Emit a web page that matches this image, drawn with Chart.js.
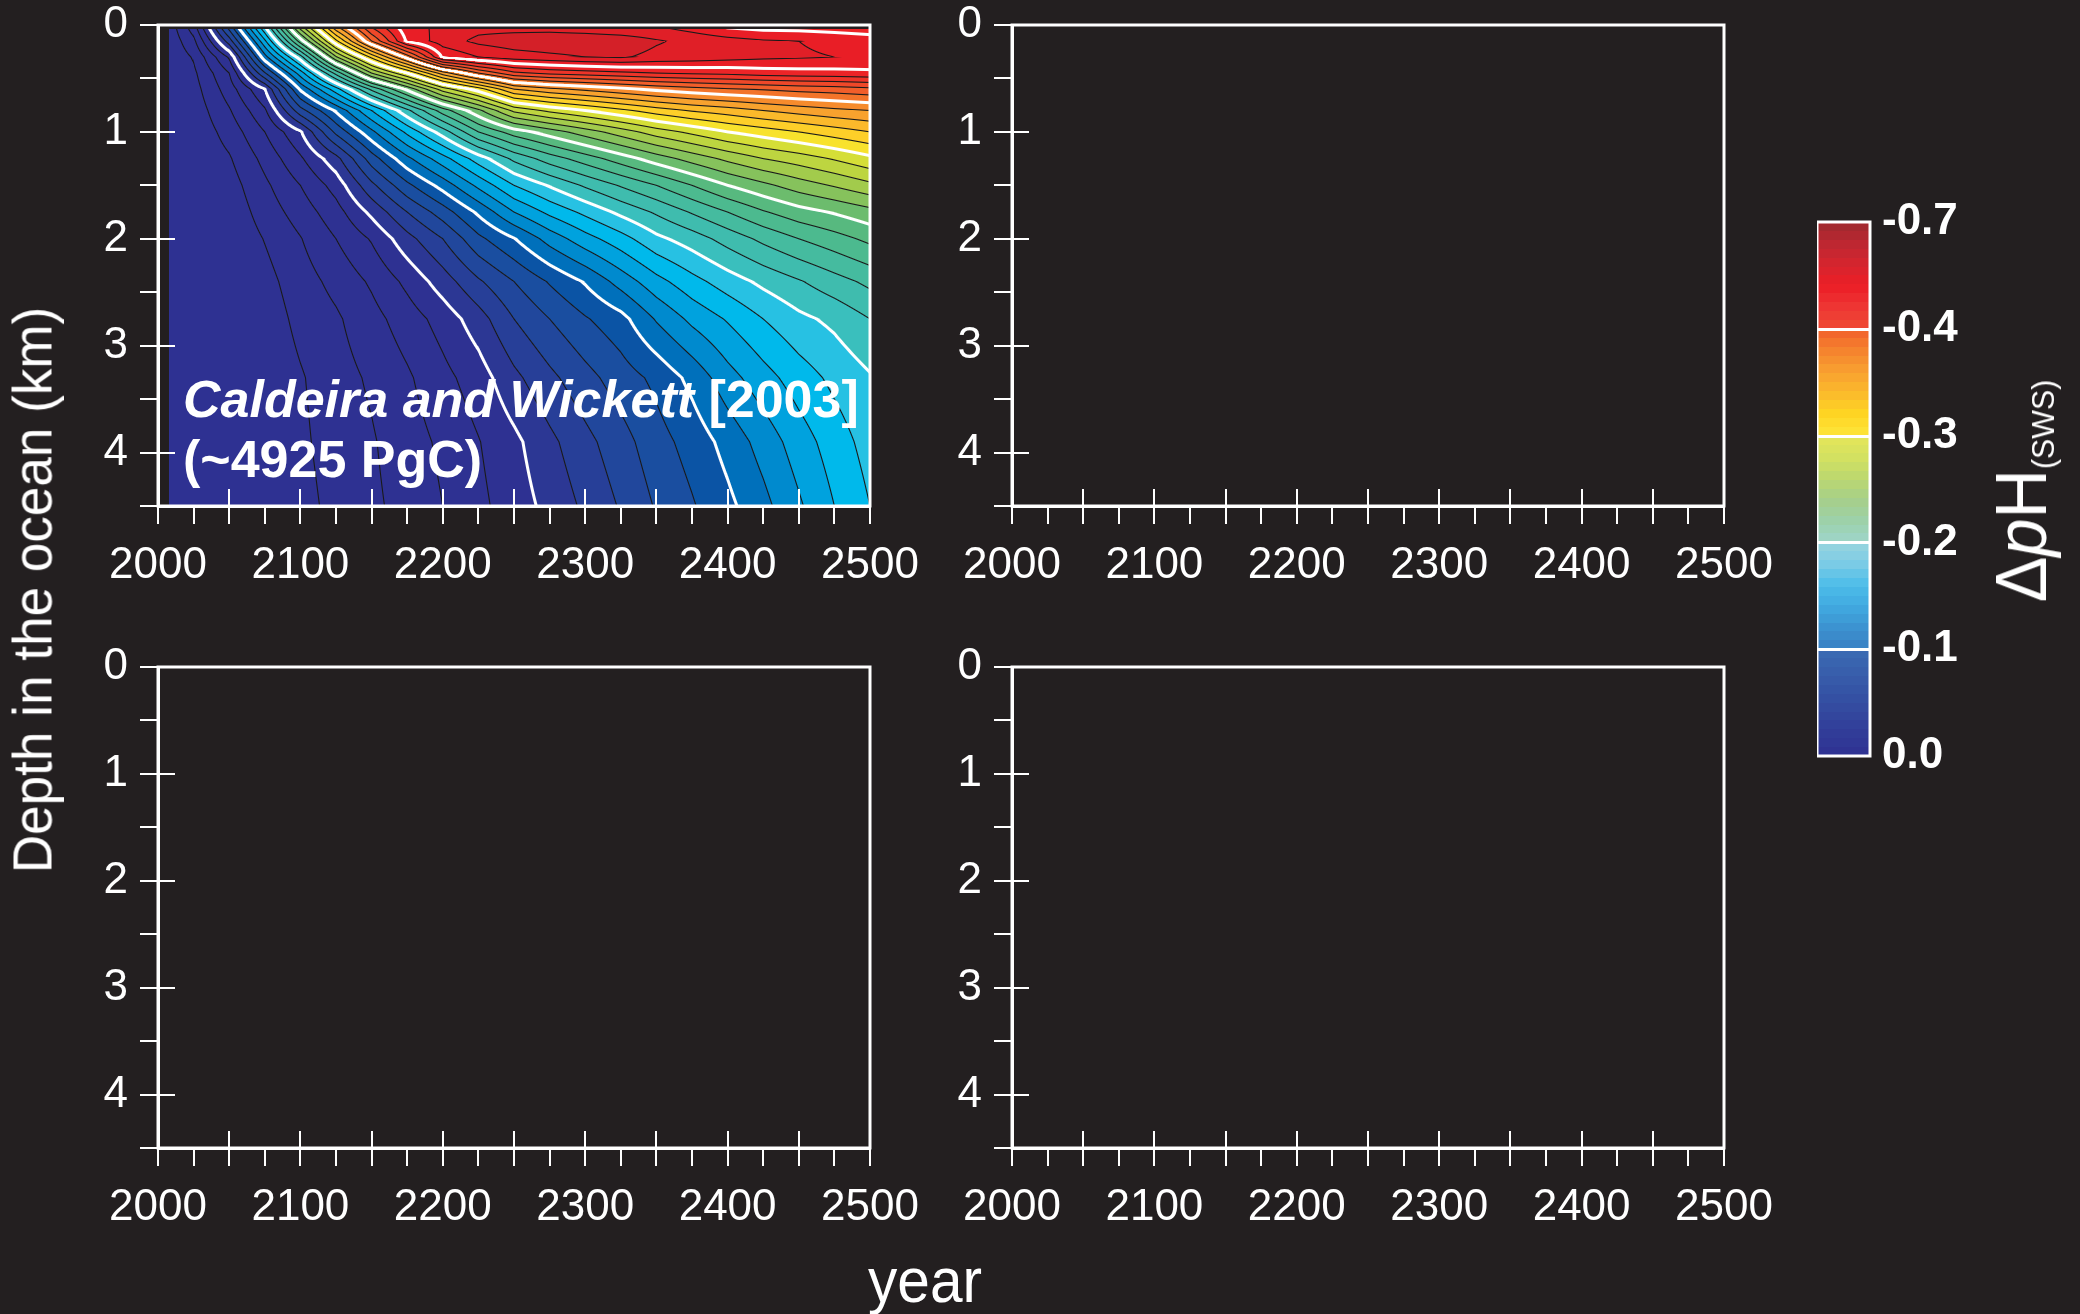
<!DOCTYPE html>
<html>
<head>
<meta charset="utf-8">
<script src="https://cdn.jsdelivr.net/npm/chart.js@4.4.0/dist/chart.umd.min.js"></script>
<style>
  html, body { margin: 0; padding: 0; background: #231f20; }
  body { width: 2080px; height: 1314px; position: relative; overflow: hidden;
         font-family: 'Liberation Sans', Arial, Helvetica, sans-serif; color: #fff; }
  canvas { position: absolute; }
  .lbl { position: absolute; white-space: nowrap; line-height: 1; }
  #yTitle { left: 33px; top: 590px; font-size: 55px; transform: translate(-50%, -50%) rotate(-90deg) scaleX(0.965); }
  #xTitle { left: 925px; top: 1249px; font-size: 63px; transform: translateX(-50%) scaleX(0.93); }
  .note { font-size: 52px; font-weight: bold; left: 183px; }
  #cbTitle { left: 2021px; top: 491px; font-size: 72px; line-height: 72px; transform: translate(-50%, -50%) rotate(-90deg) scaleX(0.95); }
  #cbTitle sub { font-size: 32px; vertical-align: -8px; line-height: 0; }
</style>
</head>
<body>
<canvas id="panelTL" width="902" height="621" style="left:48px;top:-15px"></canvas>
<canvas id="panelTR" width="902" height="621" style="left:902px;top:-15px"></canvas>
<canvas id="panelBL" width="902" height="621" style="left:48px;top:627px"></canvas>
<canvas id="panelBR" width="902" height="621" style="left:902px;top:627px"></canvas>
<canvas id="colorbar" width="203" height="614" style="left:1817px;top:182px"></canvas>

<div id="yTitle" class="lbl">Depth in the ocean (km)</div>
<div id="xTitle" class="lbl">year</div>
<div class="lbl note" style="top:373px"><i>Caldeira and Wickett</i> [2003]</div>
<div class="lbl note" style="top:433px">(~4925 PgC)</div>
<div id="cbTitle" class="lbl">&Delta;<i>p</i>H<sub>(SWS)</sub></div>

<script>
// ---- data ----
// model grid: years (columns) and depths in km (rows)
var gridYears = [2008, 2025, 2050, 2075, 2100, 2125, 2150, 2175, 2200, 2225, 2250,
                 2275, 2300, 2325, 2350, 2375, 2400, 2425, 2450, 2475, 2500];
var gridDepths = [0.04, 0.15, 0.3, 0.45, 0.6, 0.8, 1.0, 1.25, 1.5, 1.75, 2.0, 2.4, 2.75, 3.3, 3.9, 4.5];

// delta pH per year, top to bottom
var col2008 = [-0.008, -0.006, -0.004, -0.003, -0.002, -0.001, -0.001, 0, 0, 0, 0, 0, 0, 0, 0, 0];
var col2025 = [-0.048, -0.035, -0.022, -0.016, -0.012, -0.008, -0.005, -0.003, -0.002, -0.001, 0, 0, 0, 0, 0, 0];
var col2050 = [-0.162, -0.13, -0.083, -0.06, -0.05, -0.038, -0.028, -0.018, -0.011, -0.006, -0.003, -0.001, 0, 0, 0, 0];
var col2075 = [-0.291, -0.256, -0.212, -0.158, -0.1, -0.077, -0.06, -0.046, -0.036, -0.029, -0.021, -0.013, -0.008, -0.004, -0.002, -0.001];
var col2100 = [-0.44, -0.39, -0.311, -0.25, -0.203, -0.152, -0.098, -0.077, -0.06, -0.049, -0.039, -0.031, -0.026, -0.018, -0.016, -0.013];
var col2125 = [-0.565, -0.515, -0.437, -0.347, -0.272, -0.203, -0.165, -0.113, -0.088, -0.072, -0.06, -0.046, -0.037, -0.032, -0.029, -0.026];
var col2150 = [-0.655, -0.62, -0.525, -0.44, -0.345, -0.26, -0.215, -0.17, -0.135, -0.105, -0.082, -0.063, -0.053, -0.043, -0.038, -0.036];
var col2175 = [-0.712, -0.703, -0.608, -0.5, -0.405, -0.315, -0.265, -0.215, -0.175, -0.14, -0.113, -0.085, -0.07, -0.057, -0.051, -0.047];
var col2200 = [-0.725, -0.73, -0.702, -0.57, -0.47, -0.37, -0.31, -0.252, -0.208, -0.17, -0.14, -0.11, -0.088, -0.074, -0.064, -0.06];
var col2225 = [-0.735, -0.745, -0.72, -0.62, -0.51, -0.415, -0.36, -0.29, -0.245, -0.204, -0.175, -0.137, -0.111, -0.09, -0.079, -0.075];
var col2250 = [-0.735, -0.752, -0.73, -0.655, -0.56, -0.465, -0.39, -0.325, -0.28, -0.24, -0.199, -0.16, -0.14, -0.115, -0.095, -0.09];
var col2275 = [-0.735, -0.755, -0.735, -0.665, -0.575, -0.485, -0.41, -0.35, -0.302, -0.265, -0.228, -0.182, -0.16, -0.135, -0.115, -0.106];
var col2300 = [-0.732, -0.755, -0.74, -0.67, -0.585, -0.5, -0.43, -0.37, -0.323, -0.285, -0.252, -0.202, -0.178, -0.153, -0.134, -0.124];
var col2325 = [-0.728, -0.752, -0.742, -0.675, -0.595, -0.515, -0.45, -0.39, -0.342, -0.305, -0.272, -0.228, -0.193, -0.17, -0.152, -0.142];
var col2350 = [-0.725, -0.742, -0.735, -0.68, -0.605, -0.53, -0.47, -0.41, -0.36, -0.323, -0.295, -0.253, -0.222, -0.185, -0.172, -0.162];
var col2375 = [-0.715, -0.735, -0.732, -0.683, -0.612, -0.542, -0.485, -0.428, -0.38, -0.342, -0.31, -0.273, -0.245, -0.206, -0.188, -0.178];
var col2400 = [-0.703, -0.728, -0.728, -0.685, -0.618, -0.55, -0.5, -0.445, -0.4, -0.36, -0.328, -0.29, -0.262, -0.232, -0.207, -0.195];
var col2425 = [-0.698, -0.722, -0.724, -0.69, -0.622, -0.56, -0.51, -0.46, -0.415, -0.378, -0.345, -0.305, -0.28, -0.252, -0.228, -0.214];
var col2450 = [-0.697, -0.72, -0.722, -0.692, -0.627, -0.568, -0.52, -0.47, -0.43, -0.392, -0.36, -0.318, -0.295, -0.27, -0.25, -0.237];
var col2475 = [-0.694, -0.716, -0.72, -0.693, -0.63, -0.575, -0.53, -0.482, -0.442, -0.402, -0.372, -0.332, -0.305, -0.285, -0.27, -0.26];
var col2500 = [-0.69, -0.712, -0.718, -0.695, -0.635, -0.58, -0.54, -0.495, -0.455, -0.413, -0.385, -0.345, -0.32, -0.298, -0.288, -0.28];

var dpHColumns = [col2008, col2025, col2050, col2075, col2100, col2125, col2150, col2175, col2200, col2225, col2250,
                  col2275, col2300, col2325, col2350, col2375, col2400, col2425, col2450, col2475, col2500];

// tick labels
var xLabelYears = [2000, 2100, 2200, 2300, 2400, 2500];
var yLabelDepths = [0, 1, 2, 3, 4];
var cbTickLabels = ['0.0', '-0.1', '-0.2', '-0.3', '-0.4', '-0.7'];

// ---- styles ----
var FONT = "'Liberation Sans', Arial, Helvetica, sans-serif";
Chart.defaults.font.family = FONT;

var contourStep = 0.02;   // black lines every 0.02, white every 0.1

// fill colour for each 0.02 band, from 0 downwards
var bandColors = [
  '#2e3192', '#2e3192', '#2e3192', '#2e3192', '#2e3192',
  '#2c3794', '#273f98', '#21479c', '#1a4ea0', '#0b54a5',
  '#0070bb', '#008ace', '#00a2de', '#00b9eb', '#27c1e3',
  '#3abfbd', '#3fbcae', '#45bb9f', '#4cba8f', '#57b97f',
  '#6cbc6d', '#86c25c', '#a2cb4c', '#bdd540', '#d5de37',
  '#f8e22c', '#fdcf29', '#fbb92b', '#f8a22e', '#f68b2c',
  '#f3742a', '#f15e2a', '#ef4829', '#ed3428', '#ec2427',
  '#e91e26', '#e01f27', '#d42028', '#c8222a'
];

// colorbar segments, bottom to top of each segment
var cbSegments = [
  ['#2e3192', '#313c98', '#33479e', '#3553a5', '#3860ac', '#3a6bb3'],
  ['#3a80c3', '#3c92d0', '#40a9e0', '#4dbde9', '#7ccce6', '#99d5dd'],
  ['#9ed5c9', '#9dd1aa', '#a6cf8a', '#bcd86f', '#d4e160', '#e4e65a'],
  ['#fde53a', '#fed523', '#fbba2c', '#f89f30', '#f5832e', '#f1602b'],
  ['#ef4a33', '#ee3634', '#ec1e26', '#d6252e', '#bd2731', '#9d2a2f']
];

function hexRgb(h) {
  return [parseInt(h.substr(1, 2), 16), parseInt(h.substr(3, 2), 16), parseInt(h.substr(5, 2), 16)];
}

function rampColor(list, t) {
  var p = t * (list.length - 1);
  var i = Math.min(list.length - 2, Math.floor(p));
  var f = p - i;
  var a = hexRgb(list[i]), b = hexRgb(list[i + 1]);
  return 'rgb(' + a.map(function(c, k) { return Math.round(c + (b[k] - c) * f); }).join(',') + ')';
}

function locate(arr, v) {
  if (v <= arr[0]) return [0, 0];
  for (var i = 0; i < arr.length - 1; i++) {
    if (v <= arr[i + 1]) return [i, (v - arr[i]) / (arr[i + 1] - arr[i])];
  }
  return [arr.length - 2, 1];
}

// filled contours + contour lines, placed with the chart scales
var fieldPlugin = {
  id: 'dpHField',
  beforeDatasetsDraw: function(chart) {
    var ctx = chart.ctx, x = chart.scales.x, y = chart.scales.y;
    var px0 = Math.floor(x.getPixelForValue(gridYears[0]));
    var px1 = Math.ceil(x.getPixelForValue(gridYears[gridYears.length - 1]));
    var py0 = Math.floor(y.getPixelForValue(gridDepths[0]));
    var py1 = Math.ceil(y.getPixelForValue(gridDepths[gridDepths.length - 1]));
    var w = px1 - px0, h = py1 - py0;
    var colPos = [], rowPos = [], i, j;
    for (i = 0; i < w; i++) colPos.push(locate(gridYears, x.getValueForPixel(px0 + i + 0.5)));
    for (j = 0; j < h; j++) rowPos.push(locate(gridDepths, y.getValueForPixel(py0 + j + 0.5)));

    var v = new Float32Array(w * h);
    for (j = 0; j < h; j++) {
      var r = rowPos[j][0], tr = rowPos[j][1];
      for (i = 0; i < w; i++) {
        var c = colPos[i][0], tc = colPos[i][1];
        var a = dpHColumns[c], b = dpHColumns[c + 1];
        var top = a[r] + (b[r] - a[r]) * tc;
        var bot = a[r + 1] + (b[r + 1] - a[r + 1]) * tc;
        v[j * w + i] = top + (bot - top) * tr;
      }
    }

    var bandRGB = bandColors.map(hexRgb);
    var img = new ImageData(w, h);
    for (j = 0; j < h; j++) {
      for (i = 0; i < w; i++) {
        var k = j * w + i, val = v[k];
        var band = Math.min(bandRGB.length - 1, Math.max(0, Math.floor(-val / contourStep)));
        var R = bandRGB[band][0], G = bandRGB[band][1], B = bandRGB[band][2];
        var il = Math.max(i - 1, 0), ir = Math.min(i + 1, w - 1);
        var ju = Math.max(j - 1, 0), jd = Math.min(j + 1, h - 1);
        var gx = (v[j * w + ir] - v[j * w + il]) / (ir - il);
        var gy = (v[jd * w + i] - v[ju * w + i]) / (jd - ju);
        var g = Math.sqrt(gx * gx + gy * gy);
        var lvl = Math.round(val / contourStep);
        if (lvl !== 0 && g > 1e-9) {
          var dist = Math.abs(val - lvl * contourStep) / g;
          var major = (lvl % 5 === 0);
          var hw = major ? 1.5 : 0.55;
          var al = Math.max(0, Math.min(1, hw + 0.5 - dist));
          if (al > 0) {
            var lc = major ? 255 : 25;
            R += (lc - R) * al; G += (lc - G) * al; B += (lc - B) * al;
          }
        }
        img.data[k * 4] = R; img.data[k * 4 + 1] = G; img.data[k * 4 + 2] = B; img.data[k * 4 + 3] = 255;
      }
    }
    var off = document.createElement('canvas');
    off.width = w; off.height = h;
    off.getContext('2d').putImageData(img, 0, 0);
    ctx.save();
    ctx.drawImage(off, px0, py0);
    ctx.restore();
  }
};

// box around the plot and inward major ticks
var framePlugin = {
  id: 'panelFrame',
  afterDatasetsDraw: function(chart) {
    var ctx = chart.ctx, a = chart.chartArea, x = chart.scales.x, y = chart.scales.y;
    ctx.save();
    ctx.strokeStyle = '#ffffff';
    ctx.lineWidth = 2;
    ctx.beginPath();
    [1, 2, 3, 4].forEach(function(d) {
      var py = Math.round(y.getPixelForValue(d));
      ctx.moveTo(a.left, py); ctx.lineTo(a.left + 17, py);
    });
    for (var yr = 2050; yr < 2500; yr += 50) {
      var px = Math.round(x.getPixelForValue(yr));
      ctx.moveTo(px, a.bottom); ctx.lineTo(px, a.bottom - 17);
    }
    ctx.stroke();
    ctx.lineWidth = 3;
    ctx.strokeRect(a.left, a.top, a.right - a.left, a.bottom - a.top);
    ctx.restore();
  }
};

function axisGrid() {
  return { drawOnChartArea: false, drawTicks: true, tickLength: 18, color: '#ffffff', lineWidth: 2 };
}

function makePanel(id, withField) {
  return new Chart(document.getElementById(id), {
    type: 'scatter',
    data: { datasets: [] },
    options: {
      responsive: false,
      animation: false,
      devicePixelRatio: 1,
      layout: { padding: { top: 40, right: 80, left: 0, bottom: 0 } },
      plugins: { legend: { display: false }, tooltip: { enabled: false } },
      scales: {
        x: {
          type: 'linear', position: 'bottom', min: 2000, max: 2500,
          ticks: {
            stepSize: 25, autoSkip: false, maxRotation: 0, padding: 15,
            color: '#ffffff', font: { size: 44 },
            callback: function(v) { return xLabelYears.indexOf(v) >= 0 ? String(v) : ''; }
          },
          grid: axisGrid(),
          border: { color: '#ffffff', width: 3 },
          afterFit: function(s) { s.height = 100; }
        },
        y: {
          type: 'linear', position: 'left', reverse: true, min: 0, max: 4.5,
          ticks: {
            stepSize: 0.5, autoSkip: false, padding: 12,
            color: '#ffffff', font: { size: 44 },
            callback: function(v) { return yLabelDepths.indexOf(v) >= 0 ? String(v) : ''; }
          },
          grid: axisGrid(),
          border: { color: '#ffffff', width: 3 },
          afterFit: function(s) { s.width = 110; }
        }
      }
    },
    plugins: withField ? [fieldPlugin, framePlugin] : [framePlugin]
  });
}

makePanel('panelTL', true);
makePanel('panelTR', false);
makePanel('panelBL', false);
makePanel('panelBR', false);

// ---- colorbar ----
var cbStepsPerSegment = 12;

function segmentGradient(chart, k) {
  var area = chart.chartArea;
  if (!area) return cbSegments[k][0];
  var y = chart.scales.y;
  var g = chart.ctx.createLinearGradient(0, y.getPixelForValue(k), 0, y.getPixelForValue(k + 1));
  for (var i = 0; i < cbStepsPerSegment; i++) {
    var col = rampColor(cbSegments[k], (i + 0.5) / cbStepsPerSegment);
    g.addColorStop(i / cbStepsPerSegment, col);
    g.addColorStop((i + 1) / cbStepsPerSegment, col);
  }
  return g;
}

var cbFrame = {
  id: 'cbFrame',
  afterDatasetsDraw: function(chart) {
    var ctx = chart.ctx, a = chart.chartArea, y = chart.scales.y;
    ctx.save();
    ctx.strokeStyle = '#ffffff';
    ctx.lineWidth = 3;
    ctx.beginPath();
    for (var k = 1; k < cbSegments.length; k++) {
      var py = Math.round(y.getPixelForValue(k)) + 0.5;
      ctx.moveTo(a.left, py); ctx.lineTo(a.right, py);
    }
    ctx.stroke();
    ctx.strokeRect(a.left, a.top, a.right - a.left, a.bottom - a.top);
    ctx.restore();
  }
};

new Chart(document.getElementById('colorbar'), {
  type: 'bar',
  data: {
    labels: ['dpH'],
    datasets: cbSegments.map(function(cols, k) {
      return {
        data: [[k, k + 1]],
        grouped: false,
        barPercentage: 1,
        categoryPercentage: 1,
        borderWidth: 0,
        backgroundColor: function(c) { return segmentGradient(c.chart, k); }
      };
    })
  },
  options: {
    responsive: false,
    animation: false,
    devicePixelRatio: 1,
    layout: { padding: { top: 40, bottom: 40, left: 0, right: 0 } },
    plugins: { legend: { display: false }, tooltip: { enabled: false } },
    scales: {
      x: { display: false },
      y: {
        position: 'right', min: 0, max: 5,
        ticks: {
          stepSize: 1, padding: 4, color: '#ffffff',
          font: { size: 44, weight: 'bold' },
          callback: function(v) { return cbTickLabels[v]; }
        },
        grid: { display: false },
        border: { display: false },
        afterFit: function(s) { s.width = 150; }
      }
    }
  },
  plugins: [cbFrame]
});
</script>
</body>
</html>
